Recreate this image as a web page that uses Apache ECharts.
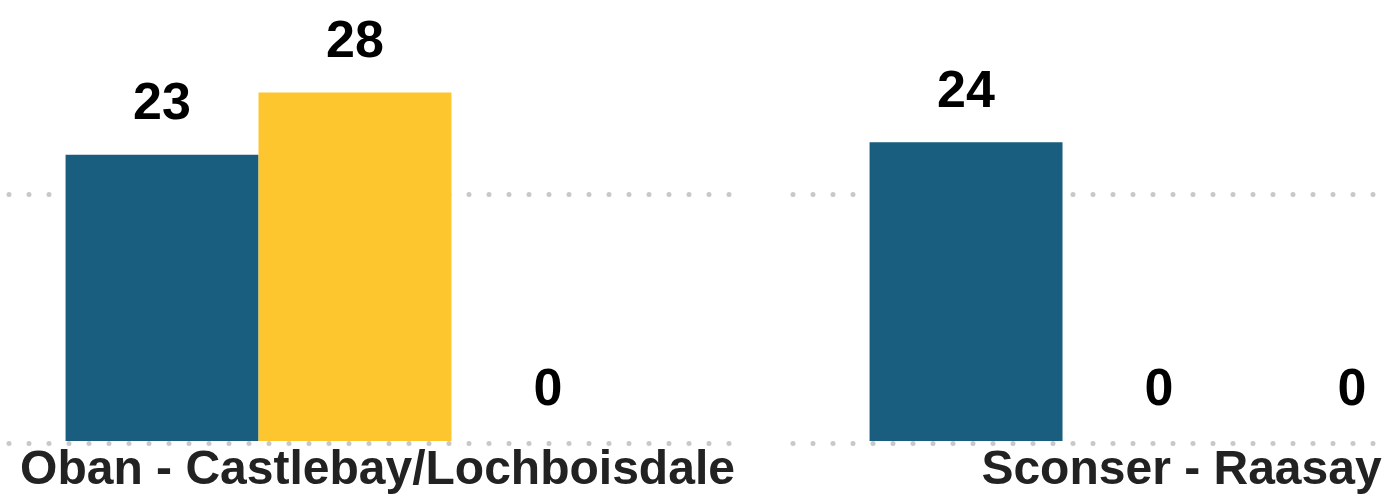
<!DOCTYPE html>
<html>
<head>
<meta charset="utf-8">
<script src="https://cdn.jsdelivr.net/npm/echarts@6/dist/echarts.min.js"></script>
<style>
  html, body { margin: 0; padding: 0; background: #fff; }
  #chart { width: 1383px; height: 501px; }
</style>
</head>
<body>
<div id="chart"></div>
<script>
  // routes (categories)
  const routes = ['Oban - Castlebay/Lochboisdale', 'Sconser - Raasay'];

  // series values per route
  const seriesNames = ['Series A', 'Series B', 'Series C'];
  const seriesA = [23, 24];
  const seriesB = [28, 0];
  const seriesC = [0, 0];

  // y axis ticks (gridlines only)
  const yMin = 0;
  const yMax = 40;
  const yStep = 20;

  const colors = ['#195e7e', '#fec62e', '#9aa5ad'];
  const font = '"Liberation Sans", Arial, sans-serif';

  const chart = echarts.init(document.getElementById('chart'));

  // dotted gridline panels (two facets)
  const dotAxis = (idx) => ({
    type: 'value',
    gridIndex: idx,
    min: yMin,
    max: yMax,
    interval: yStep,
    axisLine: { show: false },
    axisTick: { show: false },
    axisLabel: { show: false },
    splitLine: {
      show: true,
      lineStyle: { color: '#c8c8c8', width: 5, type: [0, 20], cap: 'round' },
    },
  });

  const makeSeries = (name, data, i) => ({
    name,
    type: 'bar',
    xAxisIndex: 2,
    yAxisIndex: 2,
    data,
    barGap: 0,
    barCategoryGap: '28%',
    itemStyle: { color: colors[i] },
    label: {
      show: true,
      position: 'top',
      distance: 24,
      color: '#000',
      fontFamily: font,
      fontWeight: 'bold',
      fontSize: 52,
    },
    silent: true,
  });

  const option = {
    animation: false,
    backgroundColor: '#fff',
    grid: [
      { left: 9, width: 722, top: -55, bottom: 58, outerBoundsMode: 'none', containLabel: false },
      { left: 793, right: 8, top: -55, bottom: 58, outerBoundsMode: 'none', containLabel: false },
      { left: -47, width: 1608, top: -57, bottom: 60, outerBoundsMode: 'none', containLabel: false },
    ],
    xAxis: [
      { type: 'category', gridIndex: 0, data: [''], show: false },
      { type: 'category', gridIndex: 1, data: [''], show: false },
      {
        type: 'category',
        gridIndex: 2,
        data: routes,
        axisLine: { show: false },
        axisTick: { show: false },
        axisLabel: {
          interval: 0,
          margin: 6,
          color: '#222',
          fontFamily: font,
          fontWeight: 'bold',
          fontSize: 48,
          padding: [0, 0, 0, 45],
          hideOverlap: false,
        },
      },
    ],
    yAxis: [
      dotAxis(0),
      dotAxis(1),
      {
        type: 'value',
        gridIndex: 2,
        min: yMin,
        max: yMax,
        interval: yStep,
        show: false,
        splitLine: { show: false },
      },
    ],
    series: [
      makeSeries(seriesNames[0], seriesA, 0),
      makeSeries(seriesNames[1], seriesB, 1),
      makeSeries(seriesNames[2], seriesC, 2),
    ],
  };

  chart.setOption(option);
</script>
</body>
</html>
